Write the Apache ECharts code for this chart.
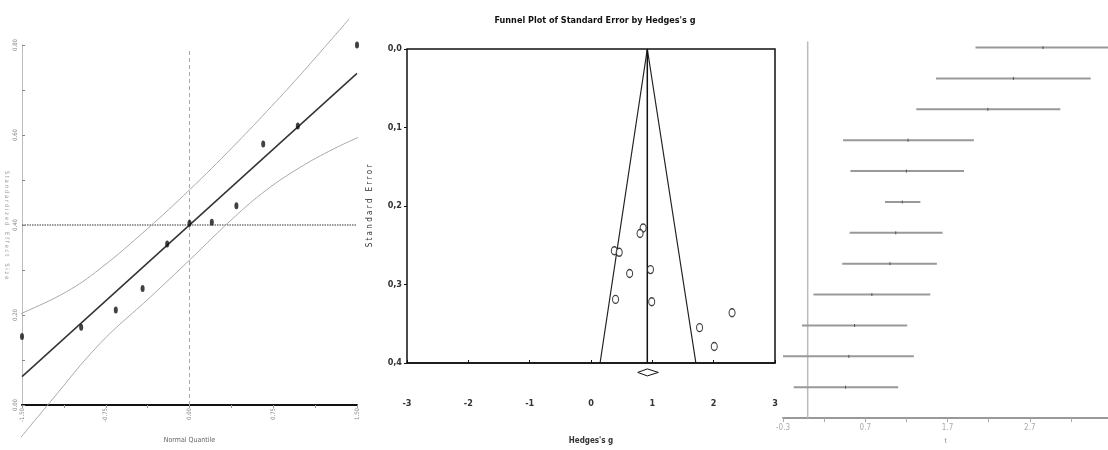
<!DOCTYPE html>
<html><head><meta charset="utf-8">
<script src="https://cdn.jsdelivr.net/npm/echarts@6/dist/echarts.min.js"></script>
<style>html,body{margin:0;padding:0;background:#fff}#c{width:1108px;height:450px}</style>
</head><body><div id="c"></div>
<script>
// ---- Left panel: normal quantile plot ----
const qqX = [-1.50, -0.97, -0.66, -0.42, -0.20, 0.00, 0.20, 0.42, 0.66, 0.97, 1.50];
const qqY = [0.152, 0.173, 0.211, 0.259, 0.358, 0.404, 0.406, 0.443, 0.580, 0.620, 0.800];
const regX = [-1.50, 1.50];
const regY = [0.063, 0.737];
const upperX = [-1.64, -1.50, -1.10, -0.80, -0.38, 0.00, 0.39, 0.69, 0.99, 1.43];
const upperY = [0.191, 0.204, 0.252, 0.303, 0.391, 0.478, 0.574, 0.652, 0.733, 0.858];
const lowerX = [-1.58, -1.25, -0.80, -0.35, 0.00, 0.39, 0.69, 0.99, 1.29, 1.56];
const lowerY = [-0.093, 0.006, 0.137, 0.240, 0.322, 0.415, 0.478, 0.528, 0.569, 0.600];
const qqMeanY = 0.40;
const qqXTicks = [-1.50, -0.75, 0.00, 0.75, 1.50];
const qqYTicks = [0.00, 0.20, 0.40, 0.60, 0.80];

// ---- Middle panel: funnel plot ----
const gVals  = [0.85, 0.80, 0.38, 0.46, 0.63, 0.97, 0.40, 0.99, 2.30, 1.77, 2.01];
const seVals = [0.228, 0.235, 0.257, 0.259, 0.286, 0.281, 0.319, 0.322, 0.336, 0.355, 0.379];
const pooledG = 0.918;
const pooledLow = 0.762, pooledHigh = 1.098;
const funnelX = [0.148, 0.918, 1.710];
const funnelY = [0.4, 0.0, 0.4];
const funnelXTicks = [-3, -2, -1, 0, 1, 2, 3];
const funnelYTicks = ['0,0', '0,1', '0,2', '0,3', '0,4'];

// ---- Right panel: forest plot ----
const studyLow  = [2.04, 1.56, 1.32, 0.43, 0.52, 0.94, 0.51, 0.42, 0.07, -0.07, -0.30, -0.17];
const studyEst  = [2.86, 2.50, 2.19, 1.22, 1.20, 1.15, 1.07, 1.00, 0.78, 0.57, 0.50, 0.46];
const studyHigh = [3.69, 3.44, 3.07, 2.02, 1.90, 1.37, 1.64, 1.57, 1.49, 1.21, 1.29, 1.10];
const forestXTicks = [-0.3, 0.7, 1.7, 2.7];

const NARROW = '"Liberation Sans Narrow","DejaVu Sans Condensed","Arial Narrow",sans-serif';

const chart = echarts.init(document.getElementById('c'), null, {renderer: 'canvas'});

const zip = (a, b) => a.map((v, i) => [v, b[i]]);

const option = {
  animation: false,
  backgroundColor: '#fff',
  title: {
    text: "Funnel Plot of Standard Error by Hedges's g",
    left: 590, top: 11, textAlign: 'center',
    textStyle: {fontFamily: NARROW, fontWeight: 'bold', fontSize: 9, color: '#111'}
  },
  grid: [
    {left: 22, top: 45, width: 335, height: 360},
    {left: 407, top: 49, width: 368, height: 317, show: true, borderColor: '#111', borderWidth: 1.5, backgroundColor: 'transparent'},
    {left: 783, top: 41.4, right: 0, height: 382.5}
  ],
  xAxis: [
    {gridIndex: 0, type: 'value', min: -1.5, max: 1.5, interval: 0.375,
     name: 'Normal Quantile', nameLocation: 'middle', nameGap: 32,
     nameTextStyle: {fontFamily: NARROW, fontSize: 7, color: '#666'},
     axisLine: {onZero: false, lineStyle: {color: '#111', width: 2}},
     axisTick: {length: 3, lineStyle: {color: '#999'}},
     splitLine: {show: false},
     axisLabel: {rotate: 90, fontSize: 6, color: '#888', fontFamily: NARROW, margin: 3,
       formatter: v => qqXTicks.some(t => Math.abs(t - v) < 1e-6) ? v.toFixed(2) : ''}},
    {gridIndex: 1, type: 'value', min: -3, max: 3, interval: 1,
     name: "Hedges's g", nameLocation: 'middle', nameGap: 74,
     nameTextStyle: {fontFamily: NARROW, fontWeight: 'bold', fontSize: 8, color: '#333'},
     axisLine: {onZero: false, lineStyle: {color: '#111', width: 1.5}},
     axisTick: {inside: true, length: 3, lineStyle: {color: '#111'}},
     splitLine: {show: false},
     axisLabel: {margin: 36, fontSize: 9, fontWeight: 'bold', color: '#333', fontFamily: NARROW,
       formatter: v => funnelXTicks.includes(Math.round(v)) ? String(Math.round(v)) : ''}},
    {gridIndex: 2, type: 'value', min: -0.3, max: 3.65, interval: 0.5,
     name: 't', nameLocation: 'middle', nameGap: 18,
     nameTextStyle: {fontSize: 8, color: '#999'},
     axisLine: {onZero: false, lineStyle: {color: '#999', width: 2}},
     axisTick: {length: 4, lineStyle: {color: '#aaa'}},
     splitLine: {show: false},
     axisLabel: {fontSize: 8, color: '#aaa', margin: 6, fontFamily: NARROW, showMaxLabel: false,
       formatter: v => forestXTicks.some(t => Math.abs(t - v) < 1e-6) ? v.toFixed(1) : ''}}
  ],
  yAxis: [
    {gridIndex: 0, type: 'value', min: 0, max: 0.8, interval: 0.1,
     name: 'S t a n d a r d i z e d    E f f e c t    S i z e', nameLocation: 'middle', nameGap: 12, nameRotate: -90,
     nameTextStyle: {fontSize: 6, color: '#999', fontFamily: NARROW},
     axisLine: {onZero: false, lineStyle: {color: '#bbb', width: 1}},
     axisTick: {inside: true, length: 3, lineStyle: {color: '#888'}},
     splitLine: {show: false},
     axisLabel: {rotate: 90, fontSize: 6, color: '#888', fontFamily: NARROW, margin: 4,
       formatter: v => qqYTicks.some(t => Math.abs(t - v) < 1e-6) ? v.toFixed(2) : ''}},
    {gridIndex: 1, type: 'value', min: 0, max: 0.4, interval: 0.1, inverse: true,
     name: 'S t a n d a r d   E r r o r', nameLocation: 'middle', nameGap: 33,
     nameTextStyle: {fontSize: 8, color: '#333', fontFamily: NARROW},
     axisLine: {show: false, onZero: false},
     axisTick: {length: 3, lineStyle: {color: '#111'}},
     splitLine: {show: false},
     axisLabel: {fontSize: 9, fontWeight: 'bold', color: '#333', fontFamily: NARROW, margin: 5,
       formatter: v => funnelYTicks[Math.round(v * 10)] || ''}},
    {gridIndex: 2, type: 'value', min: -0.2, max: 12, inverse: true, show: false}
  ],
  series: [
    // left panel
    {type: 'line', xAxisIndex: 0, yAxisIndex: 0, data: [[0, 0], [0, 0.793]], symbol: 'none',
     lineStyle: {color: '#aaa', width: 1, type: [4, 3]}, z: 1},
    {type: 'line', xAxisIndex: 0, yAxisIndex: 0, data: [[-1.5, qqMeanY], [1.5, qqMeanY]], symbol: 'none',
     lineStyle: {color: '#777', width: 1.5, type: [1.5, 1]}, z: 1},
    {type: 'line', xAxisIndex: 0, yAxisIndex: 0, data: zip(upperX, upperY), symbol: 'none', smooth: 0.4, clip: false,
     lineStyle: {color: '#aaa', width: 1}},
    {type: 'line', xAxisIndex: 0, yAxisIndex: 0, data: zip(lowerX, lowerY), symbol: 'none', smooth: 0.4, clip: false,
     lineStyle: {color: '#aaa', width: 1}},
    {type: 'line', xAxisIndex: 0, yAxisIndex: 0, data: zip(regX, regY), symbol: 'none',
     lineStyle: {color: '#333', width: 1.5}},
    {type: 'scatter', xAxisIndex: 0, yAxisIndex: 0, data: zip(qqX, qqY), symbol: 'circle', symbolSize: [4, 7],
     itemStyle: {color: '#111'}, z: 5},
    // middle panel
    {type: 'line', xAxisIndex: 1, yAxisIndex: 1, data: zip(funnelX, funnelY), symbol: 'none',
     lineStyle: {color: '#222', width: 1.2}},
    {type: 'line', xAxisIndex: 1, yAxisIndex: 1, data: [[pooledG, 0], [pooledG, 0.4]], symbol: 'none',
     lineStyle: {color: '#111', width: 1.5}},
    {type: 'scatter', xAxisIndex: 1, yAxisIndex: 1, data: zip(gVals, seVals), symbol: 'circle', symbolSize: [6, 8],
     itemStyle: {color: '#fff', borderColor: '#111', borderWidth: 1.2}, z: 5},
    {type: 'custom', xAxisIndex: 1, yAxisIndex: 1, clip: false,
     data: [[pooledLow, pooledG, pooledHigh, 0.412]],
     renderItem: (params, api) => {
       const y = api.value(3);
       const l = api.coord([api.value(0), y]);
       const c = api.coord([api.value(1), y]);
       const r = api.coord([api.value(2), y]);
       return {type: 'polygon', shape: {points: [l, [c[0], c[1] - 3.5], r, [c[0], c[1] + 3.5]]},
               style: {fill: '#fff', stroke: '#111', lineWidth: 1}};
     }},
    // right panel
    {type: 'line', xAxisIndex: 2, yAxisIndex: 2, data: [[0, -0.2], [0, 12]], symbol: 'none',
     lineStyle: {color: '#bbb', width: 1.5}, z: 1},
    {type: 'custom', xAxisIndex: 2, yAxisIndex: 2, clip: true,
     data: studyEst.map((e, i) => [studyLow[i], e, studyHigh[i], i]),
     encode: {x: [0, 1, 2], y: 3},
     renderItem: (params, api) => {
       const row = api.value(3);
       const l = api.coord([api.value(0), row]);
       const c = api.coord([api.value(1), row]);
       const r = api.coord([api.value(2), row]);
       return {type: 'group', children: [
         {type: 'line', shape: {x1: l[0], y1: l[1], x2: r[0], y2: r[1]}, style: {stroke: '#999', lineWidth: 2}},
         {type: 'line', shape: {x1: c[0], y1: c[1] - 1.5, x2: c[0], y2: c[1] + 1.5}, style: {stroke: '#555', lineWidth: 1}}
       ]};
     }}
  ]
};
chart.setOption(option);
</script></body></html>
